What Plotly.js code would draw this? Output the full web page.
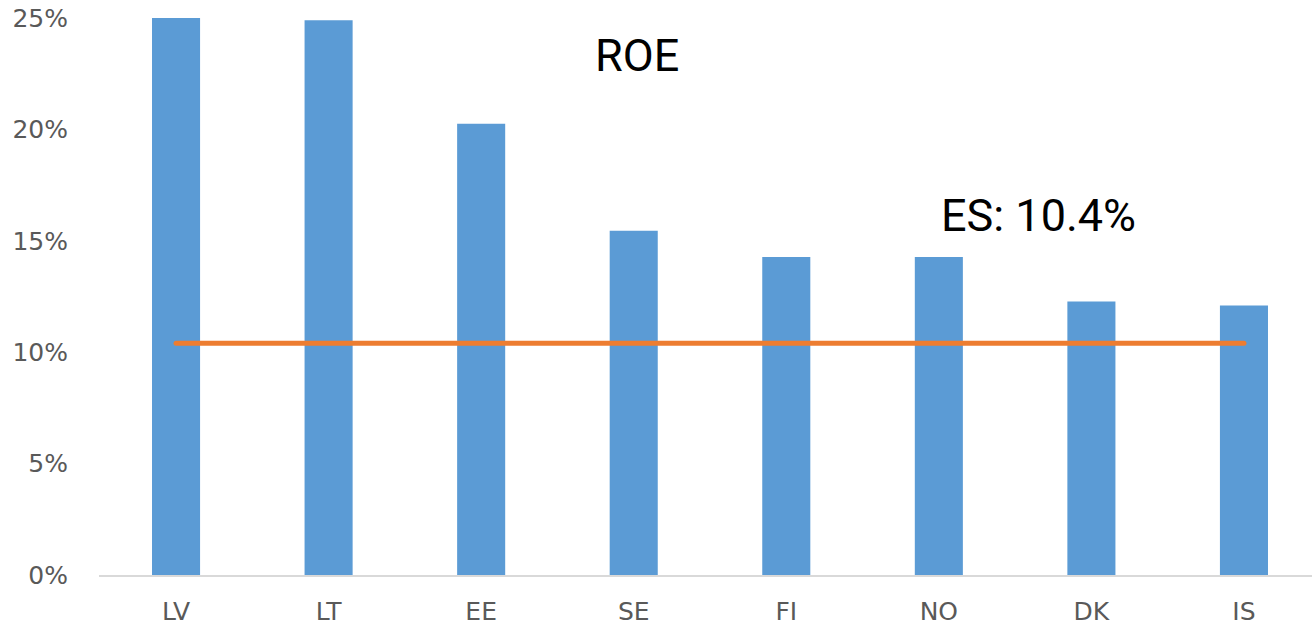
<!DOCTYPE html>
<html>
<head>
<meta charset="utf-8">
<script src="https://cdn.plot.ly/plotly-3.0.1.min.js"></script>
<style>
  html, body { margin: 0; padding: 0; background: #ffffff; }
  #chart { width: 1312px; height: 627px; }
</style>
</head>
<body>
<div id="chart"></div>
<script>
// Return on equity by country, with the ES average as a reference line
const countries = ["LV", "LT", "EE", "SE", "FI", "NO", "DK", "IS"];
const roeValues = [0.250, 0.249, 0.2025, 0.1545, 0.1427, 0.1427, 0.1228, 0.1210];
const esAverage = 0.104;
const esLine = countries.map(() => esAverage);
const yTickValues = [0, 0.05, 0.10, 0.15, 0.20, 0.25];
const yTickLabels = ["0%", "5%", "10%", "15%", "20%", "25%"];

const bars = {
  type: "bar",
  x: countries,
  y: roeValues,
  marker: { color: "#5B9BD5", line: { width: 0 } },
  hoverinfo: "x+y"
};

const average = {
  type: "scatter",
  mode: "lines",
  x: countries,
  y: esLine,
  line: { color: "#ED7D31", width: 5 },
  hoverinfo: "y"
};

const tickFont = { family: "DejaVu Sans, sans-serif", size: 25, color: "#595959" };
const titleFont = { family: "Roboto, sans-serif", size: 45, color: "#000000" };

const layout = {
  width: 1312,
  height: 627,
  margin: { l: 99, r: 0, t: 18, b: 52 },
  paper_bgcolor: "#ffffff",
  plot_bgcolor: "#ffffff",
  showlegend: false,
  bargap: 0.685,
  font: tickFont,
  xaxis: {
    type: "category",
    range: [-0.505, 7.446],
    showgrid: false,
    zeroline: false,
    showline: true,
    linecolor: "#d9d9d9",
    linewidth: 2,
    ticks: "",
    ticklabelstandoff: 13,
    tickfont: tickFont,
    fixedrange: true
  },
  yaxis: {
    range: [0, 0.25],
    tickvals: yTickValues,
    ticktext: yTickLabels,
    showgrid: false,
    zeroline: false,
    showline: false,
    ticks: "",
    ticklabelstandoff: 30,
    tickfont: tickFont,
    fixedrange: true
  },
  annotations: [
    {
      text: "ROE",
      xref: "paper", yref: "paper",
      x: 0.4435, y: 0.932,
      xanchor: "center", yanchor: "middle",
      showarrow: false,
      font: titleFont
    },
    {
      text: "ES: " + (esAverage * 100).toFixed(1) + "%",
      xref: "paper", yref: "paper",
      x: 0.7745, y: 0.646,
      xanchor: "center", yanchor: "middle",
      showarrow: false,
      font: titleFont
    }
  ]
};

Plotly.newPlot("chart", [bars, average], layout, { displayModeBar: false, staticPlot: true })
  .then(() => {
    // round the ends of the average line
    document.querySelectorAll("#chart .scatterlayer .js-line").forEach(p => {
      p.style.strokeLinecap = "round";
    });
  });
</script>
</body>
</html>
